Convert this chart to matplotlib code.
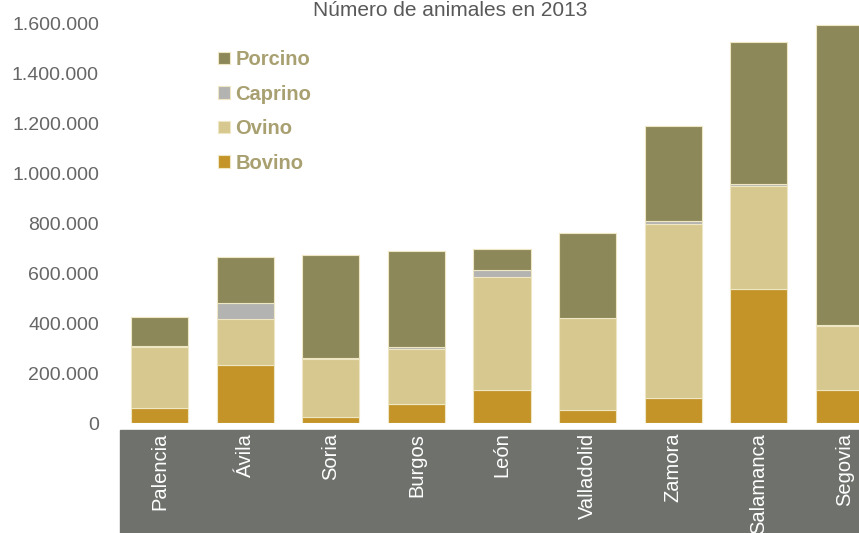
import numpy as np
import matplotlib.pyplot as plt
from matplotlib.patches import Rectangle
from matplotlib.ticker import FuncFormatter

plt.rcParams['font.family'] = ['Liberation Sans', 'DejaVu Sans']

provincias = ['Palencia', 'Ávila', 'Soria', 'Burgos', 'León',
              'Valladolid', 'Zamora', 'Salamanca', 'Segovia']
bovino = [61000, 234000, 25000, 77000, 132000, 52000, 101000, 537000, 134000]
ovino = [244000, 183000, 233000, 220000, 452000, 368000, 697000, 413000, 256000]
caprino = [3000, 64000, 3000, 8000, 28000, 3000, 11000, 7000, 3000]
porcino = [116000, 183000, 411000, 385000, 86000, 338000, 382000, 571000, 1201000]
yticks = [0, 200000, 400000, 600000, 800000, 1000000, 1200000, 1400000, 1600000]

colores = {'Bovino': '#c49428', 'Ovino': '#d7c88f',
           'Caprino': '#b3b3b1', 'Porcino': '#8c885a'}

fig = plt.figure(figsize=(8.59, 5.33), dpi=100)

# banda gris detras de los nombres de provincia
fig.patches.append(Rectangle((120/859, 0), 739/859, 103/533,
                             transform=fig.transFigure, color='#6e716c', zorder=-1))

ax = fig.add_axes([117/859, 110/533, 770/859, 399/533])
ax.patch.set_alpha(0)

x = np.arange(len(provincias))
w = 0.667
base = np.zeros(len(provincias))
handles = {}
for nombre, vals in [('Bovino', bovino), ('Ovino', ovino),
                     ('Caprino', caprino), ('Porcino', porcino)]:
    handles[nombre] = ax.bar(x, vals, w, bottom=base, color=colores[nombre],
                             edgecolor='#efe6c4', linewidth=0.8, label=nombre)
    base += np.array(vals)

ax.set_xlim(-0.5, 8.5)
ax.set_ylim(0, 1600000)
ax.set_yticks(yticks)
ax.yaxis.set_major_formatter(FuncFormatter(lambda v, p: f'{int(v):,}'.replace(',', '.')))
ax.set_xticks(x)
ax.set_xticklabels(provincias, rotation=90, color='white', fontsize=14.5)
ax.tick_params(axis='y', length=0, pad=13, labelsize=14, labelcolor='#666666')
ax.tick_params(axis='x', length=0, pad=7)
for s in ax.spines.values():
    s.set_visible(False)

orden = ['Porcino', 'Caprino', 'Ovino', 'Bovino']
ax.legend([handles[n] for n in orden], orden, loc='upper left',
          bbox_to_anchor=(200/859, 1 - 32/533), bbox_transform=fig.transFigure,
          frameon=False, labelcolor='#a8a070',
          prop={'weight': 'bold', 'size': 14.5},
          handlelength=0.6, handleheight=0.6, handletextpad=0.25,
          labelspacing=0.77)

fig.text(450/859, 1 - 1/533, 'Número de animales en 2013', ha='center', va='top',
         fontsize=15, color='#595959')

fig.savefig('out.png', dpi=100)
